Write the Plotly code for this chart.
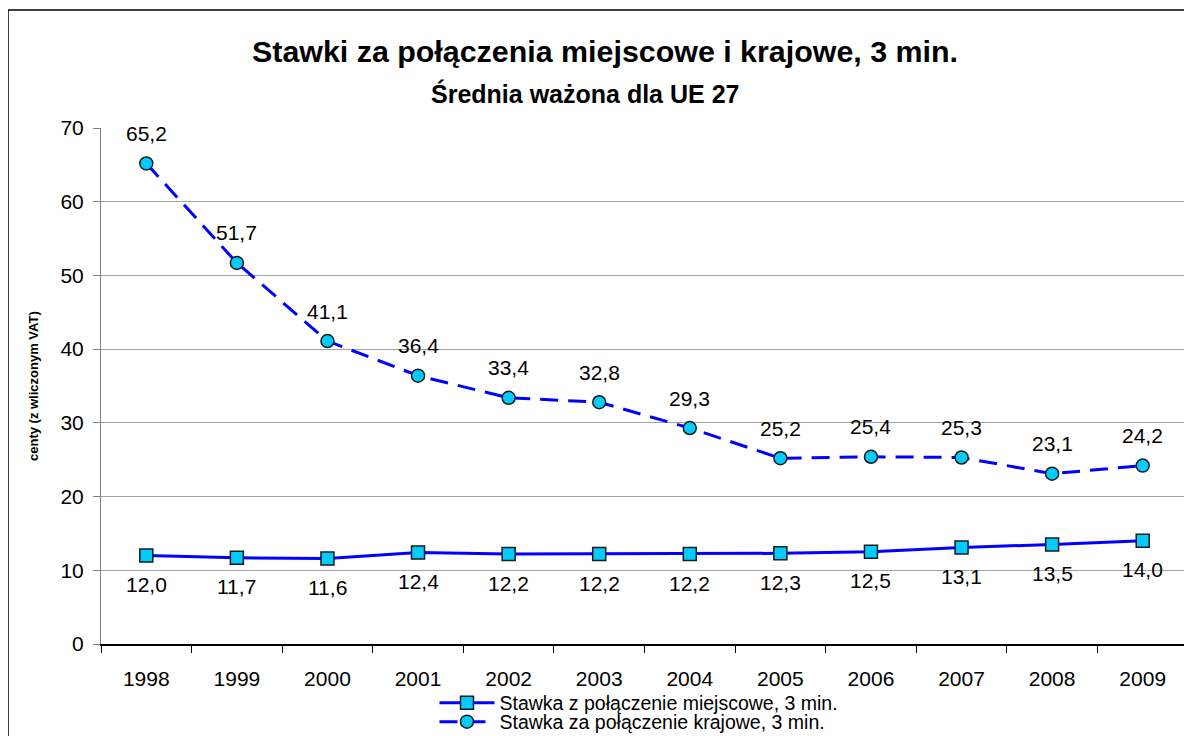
import plotly.graph_objects as go

years = ["1998", "1999", "2000", "2001", "2002", "2003", "2004", "2005", "2006", "2007", "2008", "2009"]
local_rate = [12.0, 11.7, 11.6, 12.4, 12.2, 12.2, 12.2, 12.3, 12.5, 13.1, 13.5, 14.0]
national_rate = [65.2, 51.7, 41.1, 36.4, 33.4, 32.8, 29.3, 25.2, 25.4, 25.3, 23.1, 24.2]
name_local = "Stawka z połączenie miejscowe, 3 min."
name_national = "Stawka za połączenie krajowe, 3 min."
title_text = "Stawki za połączenia miejscowe i krajowe, 3 min."
subtitle_text = "Średnia ważona dla UE 27"
ytitle_text = "centy (z wliczonym VAT)"
y_ticks = [0, 10, 20, 30, 40, 50, 60, 70]

FONT = "Liberation Sans, Arial, sans-serif"
LINE_BLUE = "#0000FF"
MARK_CYAN = "#00CCFF"

fig = go.Figure()
fig.add_trace(go.Scatter(
    x=years, y=local_rate, name=name_local, mode="lines+markers", legend="legend",
    line=dict(color=LINE_BLUE, width=3),
    marker=dict(symbol="square", size=13, color=MARK_CYAN, line=dict(color="#1a1a1a", width=1.5)),
))
fig.add_trace(go.Scatter(
    x=years, y=national_rate, name=name_national, mode="lines+markers", legend="legend2",
    line=dict(color=LINE_BLUE, width=3, dash="18px,10px"),
    marker=dict(symbol="circle", size=13, color=MARK_CYAN, line=dict(color="#1a1a1a", width=1.5)),
))

def fmt(v):
    return f"{v:.1f}".replace(".", ",")

annotations = []
for i, v in enumerate(national_rate):
    annotations.append(dict(x=i, y=v, text=fmt(v), showarrow=False, yshift=30,
                            font=dict(family=FONT, size=21, color="black")))
for i, v in enumerate(local_rate):
    annotations.append(dict(x=i, y=v, text=fmt(v), showarrow=False, yshift=-29,
                            font=dict(family=FONT, size=21, color="black")))

annotations.append(dict(xref="paper", yref="paper", x=0.4453, y=(644 - 93) / 516, text="<b>" + subtitle_text + "</b>",
                        showarrow=False, xanchor="center", yanchor="middle",
                        font=dict(family=FONT, size=25, color="black")))
annotations.append(dict(xref="paper", yref="paper", x=(33 - 101) / 1087, y=0.5, text="<b>" + ytitle_text + "</b>",
                        showarrow=False, textangle=-90, xanchor="center", yanchor="middle",
                        font=dict(family=FONT, size=13, color="black")))

legend_font = dict(family=FONT, size=19.5, color="black")
fig.update_layout(
    width=1192, height=736,
    margin=dict(l=93, r=12, t=120, b=100, autoexpand=False),
    paper_bgcolor="white", plot_bgcolor="white",
    font=dict(family=FONT, size=21, color="black"),
    title=dict(text="<b>" + title_text + "</b>", x=597 / 1192, xanchor="center",
               y=1 - 43 / 736, yanchor="middle", yref="container",
               font=dict(family=FONT, size=30.4, color="black")),
    showlegend=True,
    legend=dict(orientation="v", x=0.3068, xanchor="left", y=1 - 695 / 736, yanchor="middle", yref="container",
                font=legend_font, itemwidth=55, bgcolor="rgba(0,0,0,0)"),
    legend2=dict(orientation="v", x=0.3068, xanchor="left", y=1 - 714 / 736, yanchor="middle", yref="container",
                 font=legend_font, itemwidth=55, bgcolor="rgba(0,0,0,0)"),
    annotations=annotations,
    shapes=[dict(type="rect", xref="paper", yref="paper", x0=(8 - 101) / 1087, x1=1.03,
                 y0=-0.3, y1=(644 - 10) / 516,
                 line=dict(color="black", width=1.5), fillcolor="rgba(0,0,0,0)", layer="below")],
)
fig.update_xaxes(
    type="category", categoryorder="array", categoryarray=years, range=[-0.5, len(years) - 0.5],
    tickson="boundaries", ticks="outside", ticklen=7, tickcolor="black", tickwidth=1,
    showline=True, linecolor="black", linewidth=1.5, showgrid=False, automargin=False,
    ticklabelstandoff=15, tickfont=dict(family=FONT, size=21, color="black"),
)
fig.update_yaxes(
    range=[0, 70], tickvals=y_ticks, ticks="outside", ticklen=7, tickcolor="#808080",
    showline=True, linecolor="#808080", linewidth=1, mirror=True, automargin=False,
    showgrid=True, gridcolor="#a0a0a0", gridwidth=1, zeroline=False,
    ticklabelstandoff=5, tickfont=dict(family=FONT, size=21, color="black"),
)

fig.write_html("out.html")
